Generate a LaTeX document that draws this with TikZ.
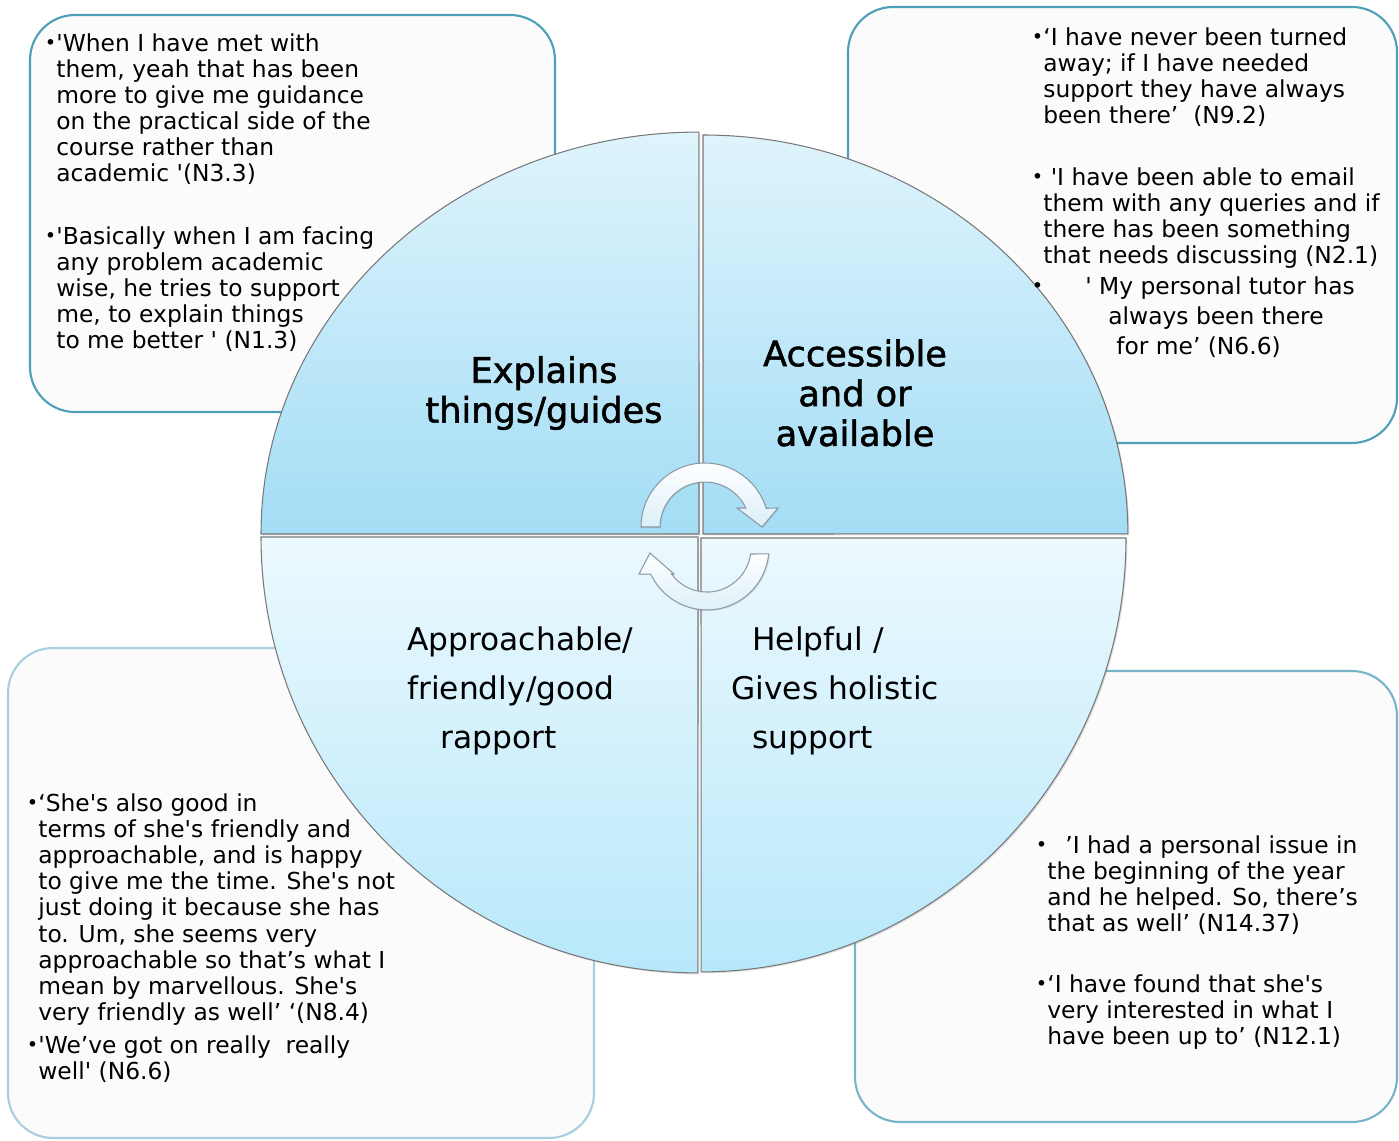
\documentclass[tikz,border=0pt]{standalone}
\usepackage{fontspec}
\setmainfont{DejaVu Sans}[Ligatures=TeXOff]
\newfontfamily\headfont{DejaVu Sans}[FakeBold=1.5]
\usepackage{tikz}
\usetikzlibrary{positioning}
\usetikzlibrary{shadows}
\definecolor{box-line}{RGB}{78,159,184}
\definecolor{box-line-mid}{RGB}{120,180,201}
\definecolor{box-line-light}{RGB}{168,207,221}
\definecolor{box-fill}{RGB}{251,251,251}
\definecolor{top-light}{RGB}{223,244,252}
\definecolor{top-dark}{RGB}{163,221,245}
\definecolor{bottom-light}{RGB}{236,249,254}
\definecolor{bottom-dark}{RGB}{183,232,250}
\definecolor{quad-line}{RGB}{120,120,120}
\definecolor{arrow-line}{RGB}{140,155,166}
\definecolor{arrow-fill}{RGB}{220,239,248}
\newcommand{\qdot}{\llap{\raisebox{0.1ex}{\fontsize{11}{11}\selectfont •}}}

\begin{document}
\begin{tikzpicture}[x=0.02cm, y=0.02cm,
box/.style={draw=box-line, line width=1.2pt, fill=box-fill, rounded corners=0.9cm},
quadrant/.style={draw=quad-line, line width=0.6pt, drop shadow={opacity=0.25, shadow xshift=0.8pt, shadow yshift=-0.8pt}},
cyclearrow/.style={draw=arrow-line, line width=0.6pt, top color=white, bottom color=arrow-fill, drop shadow={opacity=0.2, shadow xshift=0.6pt, shadow yshift=-0.6pt}},
quotetext/.style={anchor=north west, inner sep=0pt, align=left, font=\fontsize{13.3}{14.9}\selectfont},
headtext/.style={align=center, inner sep=0pt, font=\headfont\fontsize{20}{22.7}\selectfont},
softtext/.style={anchor=west, align=left, inner sep=0pt, font=\fontsize{17.8}{27.8}\selectfont}]
\useasboundingbox (0,0) rectangle (1399,1140);

% quote boxes
\draw[box] (30,728) rectangle (555,1125);
\draw[box] (848,697) rectangle (1397,1133);
\draw[box, draw=box-line-light] (8,2) rectangle (594,492);
\draw[box, draw=box-line-mid] (855,18) rectangle (1397,469);

% quadrants
\draw[quadrant, top color=top-light, bottom color=top-dark] (699,606) -- (261,606) arc[start angle=180, end angle=90, x radius=8.76cm, y radius=8.04cm] -- cycle;
\draw[quadrant, top color=top-light, bottom color=top-dark] (703,606) -- (703,1005) arc[start angle=90, end angle=0, x radius=8.5cm, y radius=7.98cm] -- cycle;
\draw[quadrant, top color=bottom-light, bottom color=bottom-dark] (698,603) -- (261,603) arc[start angle=180, end angle=270, x radius=8.74cm, y radius=8.72cm] -- cycle;
\draw[quadrant, top color=bottom-light, bottom color=bottom-dark] (701,602) -- (1126,602) arc[start angle=0, end angle=-90, x radius=8.5cm, y radius=8.68cm] -- cycle;

% circular arrows
\draw[cyclearrow] (641,613) arc[start angle=180, end angle=17, radius=1.28cm] -- (778,632) -- (762,613) -- (737,632) -- (745.8,632) arc[start angle=25, end angle=180, radius=0.9cm] -- cycle;
\draw[cyclearrow] (768.7,586.1) arc[start angle=-5.5, end angle=-155, radius=1.24cm] -- (639,566) -- (650,587) -- (674,566) -- (671.4,566.1) arc[start angle=-144, end angle=-7.8, radius=0.88cm] -- cycle;

% quadrant titles
\node[headtext] (explains) at (544,747) {Explains\\things/guides};
\node[headtext] (access) at (855,747) {Accessible\\and or\\available};
\node[softtext] (approach) at (407,449) {Approachable/\\friendly/good\\\hspace{0.66cm}rapport};
\node[softtext] (helpful) at (731,449) {\hspace{0.42cm}Helpful /\\Gives holistic\\\hspace{0.42cm}support};

% quotes
\node[quotetext] (q1) at (56,1107) {\qdot'When I have met with\\them, yeah that has been\\more to give me guidance\\on the practical side of the\\course rather than\\academic '(N3.3)};
\node[quotetext] (q2) at (56,914) {\qdot'Basically when I am facing\\any problem academic\\wise, he tries to support\\me, to explain things\\to me better ' (N1.3)};
\node[quotetext] (q3) at (1043,1113) {\qdot‘I have never been turned\\away; if I have needed\\support they have always\\been there’~ (N9.2)};
\node[quotetext] (q4) at (1043,973) {\qdot\ 'I have been able to email\\them with any queries and if\\there has been something\\that needs discussing (N2.1)};
\node[quotetext, font=\fontsize{13.3}{17.3}\selectfont] (q5) at (1043,864) {\qdot\hspace{0.84cm}' My personal tutor has\\\hspace{1.3cm}always been there\\\hspace{1.46cm}for me’ (N6.6)};
\node[quotetext] (q6) at (38,347) {\qdot‘She's also good in\\terms of she's friendly and\\approachable, and is happy\\to give me the time. She's not\\just doing it because she has\\to. Um, she seems very\\approachable so that’s what I\\mean by marvellous. She's\\very friendly as well’ ‘(N8.4)};
\node[quotetext] (q7) at (38,105) {\qdot'We’ve got on really~ really\\well' (N6.6)};
\node[quotetext] (q8) at (1047,305) {\qdot\hspace{0.36cm}’I had a personal issue in\\the beginning of the year\\and he helped. So, there’s\\that as well’ (N14.37)};
\node[quotetext] (q9) at (1047,166) {\qdot‘I have found that she's\\very interested in what I\\have been up to’ (N12.1)};
\end{tikzpicture}
\end{document}
